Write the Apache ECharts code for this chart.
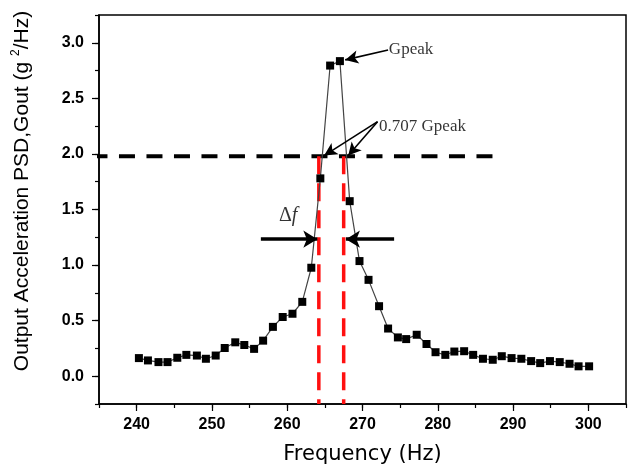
<!DOCTYPE html>
<html><head><meta charset="utf-8">
<script src="https://cdn.jsdelivr.net/npm/echarts@6/dist/echarts.min.js"></script>
<style>html,body{margin:0;padding:0;background:#fff}#c{width:635px;height:470px}</style>
</head><body><div id="c"></div>
<script>
// ---- data ----
const freqHz = [240.3,241.5,242.9,244.1,245.4,246.6,248.0,249.2,250.5,251.7,253.1,254.3,255.6,256.8,258.1,259.4,260.7,262.0,263.2,264.4,265.7,267.0,268.3,269.6,270.8,272.2,273.4,274.7,275.8,277.2,278.5,279.7,281.0,282.2,283.5,284.7,286.0,287.3,288.5,289.8,291.1,292.4,293.6,294.9,296.2,297.5,298.7,300.1];
const psdValues = [0.163,0.142,0.127,0.127,0.166,0.192,0.186,0.157,0.186,0.254,0.305,0.281,0.246,0.320,0.444,0.533,0.562,0.669,0.976,1.780,2.795,2.835,1.575,1.036,0.867,0.630,0.429,0.349,0.334,0.373,0.290,0.216,0.192,0.222,0.225,0.192,0.157,0.148,0.180,0.163,0.157,0.136,0.118,0.136,0.127,0.112,0.089,0.089];
const xTickLabels = [240,250,260,270,280,290,300];
const yTickLabels = [0,0.5,1,1.5,2,2.5,3];
// annotations (data units)
const halfPowerLevel = 1.98;
const halfPowerFreqs = [264.2, 267.5];
const refLineX = [234.0, 288.65];
const bandArrowY = 1.233;
const bandArrowLeft = [256.5, 264.0];
const bandArrowRight = [274.2, 267.8];
const gpeakArrow = [[273.4, 2.935], [267.7, 2.846]];
const halfArrows = [[[272.0, 2.29], [264.9, 1.985]], [[272.0, 2.29], [268.1, 1.985]]];
const textItems = [
  {pos: [273.5, 2.935], text: 'Gpeak'},
  {pos: [272.2, 2.25], text: '0.707 Gpeak'},
  {pos: [258.9, 1.44], text: '{d|Δ}{f|f}'}
];

const chart = echarts.init(document.getElementById('c'), null, {renderer: 'canvas'});
const option = {
  animation: false,
  backgroundColor: '#fff',
  grid: {left: 99, right: 9, top: 15, bottom: 63, show: true, borderColor: '#000', borderWidth: 1.5, backgroundColor: 'transparent'},
  xAxis: [
    {type: 'value', min: 235, max: 305, interval: 5, position: 'bottom',
     axisLine: {show: true, onZero: false, lineStyle: {color: '#000', width: 1.5}},
     axisTick: {show: true, length: 4, lineStyle: {color: '#000', width: 1.2}},
     axisLabel: {show: true, customValues: xTickLabels, margin: 13, color: '#000', fontFamily: 'Liberation Sans', fontWeight: 'bold', fontSize: 16},
     splitLine: {show: false},
     name: 'Frequency (Hz)', nameLocation: 'middle', nameGap: 40,
     nameTextStyle: {fontFamily: 'DejaVu Sans', fontSize: 21, color: '#000'}},
    {type: 'value', min: 235, max: 305, position: 'bottom',
     axisLine: {show: false, onZero: false},
     axisTick: {show: true, customValues: xTickLabels, length: 7, lineStyle: {color: '#000', width: 1.2}},
     axisLabel: {show: false}, splitLine: {show: false}}
  ],
  yAxis: [
    {type: 'value', min: -0.25, max: 3.25, interval: 0.25, position: 'left',
     axisLine: {show: true, onZero: false, lineStyle: {color: '#000', width: 1.5}},
     axisTick: {show: true, length: 4, lineStyle: {color: '#000', width: 1.2}},
     axisLabel: {show: true, customValues: yTickLabels, margin: 15, color: '#000', fontFamily: 'Liberation Sans', fontWeight: 'bold', fontSize: 16,
                 formatter: v => Number(v).toFixed(1)},
     splitLine: {show: false}},
    {type: 'value', min: -0.25, max: 3.25, position: 'left',
     axisLine: {show: false, onZero: false},
     axisTick: {show: true, customValues: yTickLabels, length: 7, lineStyle: {color: '#000', width: 1.2}},
     axisLabel: {show: false}, splitLine: {show: false}}
  ],
  graphic: [{
    type: 'text', x: 22, y: 191, rotation: Math.PI / 2,
    style: {
      text: 'Output Acceleration PSD,Gout (g {sup|2}/Hz)',
      font: '21px "Liberation Sans"', fill: '#000', align: 'center', verticalAlign: 'middle',
      rich: {sup: {fontSize: 12, fontFamily: 'Liberation Sans', padding: [0, 0, 12, 0], fill: '#000'}}
    }
  }],
  series: [
    {type: 'line', name: 'refline', z: 2, clip: false, silent: true,
     data: refLineX.map(x => [x, halfPowerLevel]), symbol: 'none',
     lineStyle: {color: '#000', width: 4, type: [16, 11.5]}},
    ...halfPowerFreqs.map(f => ({
      type: 'line', z: 3, clip: false, silent: true, symbol: 'none',
      data: [[f, halfPowerLevel], [f, -0.25]],
      lineStyle: {color: '#ff1010', width: 3.5, type: [18, 9]}
    })),
    {type: 'line', name: 'PSD', z: 4,
     data: freqHz.map((f, i) => [f, psdValues[i]]),
     symbol: 'rect', symbolSize: 8, showSymbol: true,
     itemStyle: {color: '#000'},
     lineStyle: {color: '#444', width: 1.2}},
    {type: 'line', z: 5, data: [], silent: true,
     markLine: {silent: true, animation: false, symbol: ['none', 'arrow'], symbolSize: [13, 14],
       label: {show: false}, emphasis: {disabled: true},
       lineStyle: {color: '#000', width: 3.5, type: 'solid'},
       data: [
         [{coord: [bandArrowLeft[0], bandArrowY]}, {coord: [bandArrowLeft[1], bandArrowY]}],
         [{coord: [bandArrowRight[0], bandArrowY]}, {coord: [bandArrowRight[1], bandArrowY]}]
       ]}},
    {type: 'line', z: 5, data: [], silent: true,
     markLine: {silent: true, animation: false, symbol: ['none', 'arrow'], symbolSize: [10, 13],
       label: {show: false}, emphasis: {disabled: true},
       lineStyle: {color: '#000', width: 1.6, type: 'solid'},
       data: [
         [{coord: gpeakArrow[0]}, {coord: gpeakArrow[1]}],
         [{coord: halfArrows[0][0]}, {coord: halfArrows[0][1]}],
         [{coord: halfArrows[1][0]}, {coord: halfArrows[1][1]}]
       ]}},
    {type: 'scatter', z: 6, silent: true, symbolSize: 0,
     data: textItems.map(t => ({value: t.pos, label: {formatter: t.text}})),
     label: {show: true, position: 'right', distance: 0, color: '#000',
       fontFamily: 'Liberation Serif', fontSize: 17,
       rich: {d: {fontFamily: 'Liberation Serif', fontSize: 20, color: '#000'},
              f: {fontFamily: 'Liberation Serif', fontStyle: 'italic', fontSize: 20, color: '#000'}}}}
  ]
};
chart.setOption(option);
</script></body></html>
